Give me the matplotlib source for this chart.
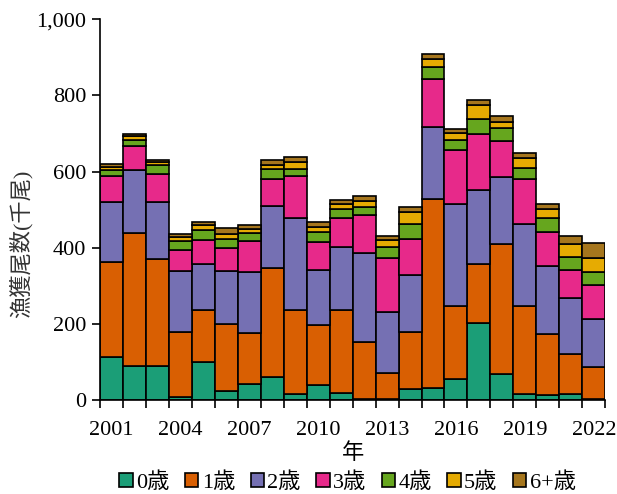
import matplotlib
matplotlib.use("Agg")
import matplotlib.pyplot as plt
from matplotlib.ticker import FuncFormatter
import numpy as np

plt.rcParams['font.family'] = ['Liberation Serif', 'Noto Sans CJK JP', 'DejaVu Sans']

years = list(range(2001, 2023))
age_labels = ['0歳', '1歳', '2歳', '3歳', '4歳', '5歳', '6+歳']
colors = ['#1b9e77', '#d95f02', '#7570b3', '#e7298a', '#66a61e', '#e6ab02', '#a6761d']

age0 = [112, 90, 89, 7, 99, 23, 42, 62, 16, 40, 18, 3, 3, 29, 33, 55, 203, 68, 16, 13, 16, 3]
age1 = [250, 349, 282, 171, 138, 177, 133, 285, 221, 156, 219, 149, 68, 151, 496, 193, 155, 342, 230, 161, 105, 83]
age2 = [158, 166, 149, 161, 121, 140, 161, 162, 242, 146, 165, 235, 160, 149, 188, 268, 193, 176, 217, 177, 146, 127]
age3 = [68, 62, 75, 56, 63, 59, 81, 72, 109, 73, 77, 100, 143, 95, 126, 140, 147, 94, 118, 90, 76, 88]
age4 = [17, 17, 22, 24, 27, 25, 21, 25, 20, 26, 24, 20, 28, 39, 32, 28, 41, 35, 29, 37, 32, 35]
age5 = [7, 9, 7, 9, 11, 13, 11, 12, 17, 13, 13, 17, 19, 31, 20, 18, 36, 16, 27, 24, 35, 38]
age6p = [7, 7, 7, 9, 8, 16, 10, 13, 13, 13, 10, 12, 10, 13, 15, 11, 14, 15, 12, 14, 22, 38]

series = [age0, age1, age2, age3, age4, age5, age6p]

fig = plt.figure(figsize=(6.17, 4.94), dpi=100)
ax = fig.add_axes([0.162, 0.190, 0.819, 0.771])

bottom = np.zeros(len(years))
for vals, lab, col in zip(series, age_labels, colors):
    ax.bar(years, vals, width=1.0, bottom=bottom, color=col, edgecolor='black',
           linewidth=1.2, label=lab)
    bottom += np.array(vals)

ax.set_xlim(years[0] - 0.5, years[-1] + 0.5)
ax.set_ylim(0, 1000)
ax.set_yticks(range(0, 1001, 200))
ax.yaxis.set_major_formatter(FuncFormatter(lambda v, p: f'{int(v):,}'))

label_years = years[::3]
ax.set_xticks(label_years)
ax.set_xticks(np.arange(years[0] - 0.5, years[-1] + 0.6, 1.0), minor=True)
ax.tick_params(axis='x', which='major', length=0, pad=15, labelsize=16)
ax.tick_params(axis='x', which='minor', length=6, width=1.2, direction='out')
ax.tick_params(axis='y', length=6, width=1.2, direction='out', labelsize=16, pad=4)

for s in ['top', 'right']:
    ax.spines[s].set_visible(False)
for s in ['left', 'bottom']:
    ax.spines[s].set_linewidth(1.2)

ax.set_xlabel('年', fontsize=16, labelpad=2)
fig.text(21 / 617, 1 - 244 / 494, '漁獲尾数(千尾)', rotation=90, fontsize=16,
         ha='center', va='center', color='#333333')

leg = ax.legend(loc='upper center', bbox_to_anchor=(0.49, -0.165), ncol=7,
                frameon=False, fontsize=16, handlelength=0.6, handleheight=0.6,
                handletextpad=0.15, columnspacing=0.7, borderaxespad=0)

fig.savefig('out.png', dpi=100)
